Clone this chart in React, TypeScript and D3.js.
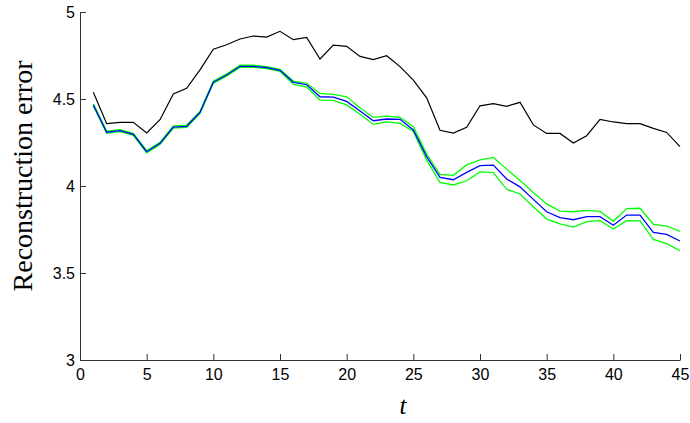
import { useEffect, useRef } from "react";
import * as d3 from "d3";

const tValues = [
  1, 2, 3, 4, 5, 6, 7, 8, 9, 10, 11, 12, 13, 14, 15, 16, 17, 18, 19, 20, 21, 22,
  23, 24, 25, 26, 27, 28, 29, 30, 31, 32, 33, 34, 35, 36, 37, 38, 39, 40, 41,
  42, 43, 44, 45,
];

const baselineError = [
  4.539, 4.358, 4.366, 4.366, 4.305, 4.381, 4.529, 4.561, 4.667, 4.786, 4.812,
  4.845, 4.862, 4.856, 4.889, 4.841, 4.854, 4.73, 4.81, 4.803, 4.745, 4.726,
  4.749, 4.686, 4.609, 4.507, 4.32, 4.304, 4.337, 4.461, 4.473, 4.458, 4.481,
  4.351, 4.302, 4.302, 4.247, 4.289, 4.383, 4.368, 4.358, 4.358, 4.331, 4.308,
  4.226,
];

const meanError = [
  4.466, 4.309, 4.318, 4.297, 4.197, 4.245, 4.339, 4.343, 4.423, 4.596, 4.638,
  4.688, 4.688, 4.68, 4.665, 4.596, 4.582, 4.513, 4.511, 4.486, 4.431, 4.375,
  4.385, 4.383, 4.322, 4.169, 4.05, 4.036, 4.078, 4.117, 4.12, 4.04, 3.995,
  3.923, 3.852, 3.818, 3.806, 3.824, 3.824, 3.774, 3.833, 3.833, 3.734, 3.722,
  3.684,
];

const upperError = [
  4.472, 4.315, 4.324, 4.303, 4.203, 4.251, 4.345, 4.349, 4.429, 4.602, 4.644,
  4.694, 4.694, 4.686, 4.671, 4.603, 4.59, 4.532, 4.526, 4.513, 4.45, 4.394,
  4.402, 4.394, 4.341, 4.184, 4.067, 4.061, 4.121, 4.15, 4.164, 4.097, 4.031,
  3.963, 3.897, 3.856, 3.852, 3.86, 3.854, 3.797, 3.87, 3.872, 3.78, 3.77,
  3.739,
];

const lowerError = [
  4.46, 4.303, 4.312, 4.291, 4.19, 4.239, 4.333, 4.337, 4.417, 4.59, 4.632,
  4.682, 4.682, 4.674, 4.659, 4.584, 4.569, 4.494, 4.492, 4.466, 4.412, 4.354,
  4.368, 4.36, 4.314, 4.149, 4.021, 4.006, 4.03, 4.081, 4.077, 3.981, 3.954,
  3.881, 3.81, 3.782, 3.764, 3.795, 3.801, 3.753, 3.801, 3.799, 3.693, 3.669,
  3.628,
];

const xTicks = [0, 5, 10, 15, 20, 25, 30, 35, 40, 45];
const yTicks = [3, 3.5, 4, 4.5, 5];

export default function App() {
  const svgRef = useRef<SVGSVGElement>(null);

  useEffect(() => {
    if (!svgRef.current) return;
    const width = 690;
    const height = 423;
    const margin = { top: 12, right: 10, bottom: 63, left: 80 };

    const svg = d3.select(svgRef.current);
    svg.selectAll("*").remove();

    const x = d3
      .scaleLinear()
      .domain([0, 45])
      .range([margin.left, width - margin.right]);
    const y = d3
      .scaleLinear()
      .domain([3, 5])
      .range([height - margin.bottom, margin.top]);

    // lines
    const series = [
      { values: upperError, color: "#00ff00", w: 1.3 },
      { values: lowerError, color: "#00ff00", w: 1.3 },
      { values: meanError, color: "#0000ff", w: 1.3 },
      { values: baselineError, color: "#000000", w: 1.2 },
    ];
    const line = d3
      .line<number>()
      .x((_, i) => x(tValues[i]))
      .y((d) => y(d));
    svg
      .append("g")
      .selectAll("path")
      .data(series)
      .join("path")
      .attr("d", (s) => line(s.values))
      .attr("fill", "none")
      .attr("stroke", (s) => s.color)
      .attr("stroke-width", (s) => s.w);

    // axes
    const xAxis = svg
      .append("g")
      .attr("transform", `translate(0,${height - margin.bottom})`)
      .call(
        d3
          .axisBottom(x)
          .tickValues(xTicks)
          .tickSizeInner(-6)
          .tickSizeOuter(0)
          .tickPadding(9)
          .tickFormat((d) => String(d))
      );
    const yAxis = svg
      .append("g")
      .attr("transform", `translate(${margin.left},0)`)
      .call(
        d3
          .axisLeft(y)
          .tickValues(yTicks)
          .tickSizeInner(-6)
          .tickSizeOuter(0)
          .tickPadding(5)
          .tickFormat((d) => String(d))
      );
    [xAxis, yAxis].forEach((g) => {
      g.selectAll("text")
        .attr("font-family", "Liberation Sans, Arial, sans-serif")
        .attr("font-size", 16)
        .attr("fill", "#000");
      g.selectAll("line").attr("stroke", "#333");
      g.select(".domain").attr("stroke", "#333");
    });

    // axis labels
    svg
      .append("text")
      .attr("x", 403)
      .attr("y", 414)
      .attr("text-anchor", "middle")
      .attr("font-family", "Liberation Serif, Times New Roman, serif")
      .attr("font-style", "italic")
      .attr("font-size", 25)
      .text("t");

    svg
      .append("text")
      .attr("transform", "translate(32,176) rotate(-90)")
      .attr("text-anchor", "middle")
      .attr("font-family", "Liberation Serif, Times New Roman, serif")
      .attr("font-size", 28)
      .text("Reconstruction error");
  }, []);

  return (
    <svg
      ref={svgRef}
      width={690}
      height={423}
      style={{ position: "absolute", left: 0, top: 0, background: "#fff" }}
    />
  );
}
